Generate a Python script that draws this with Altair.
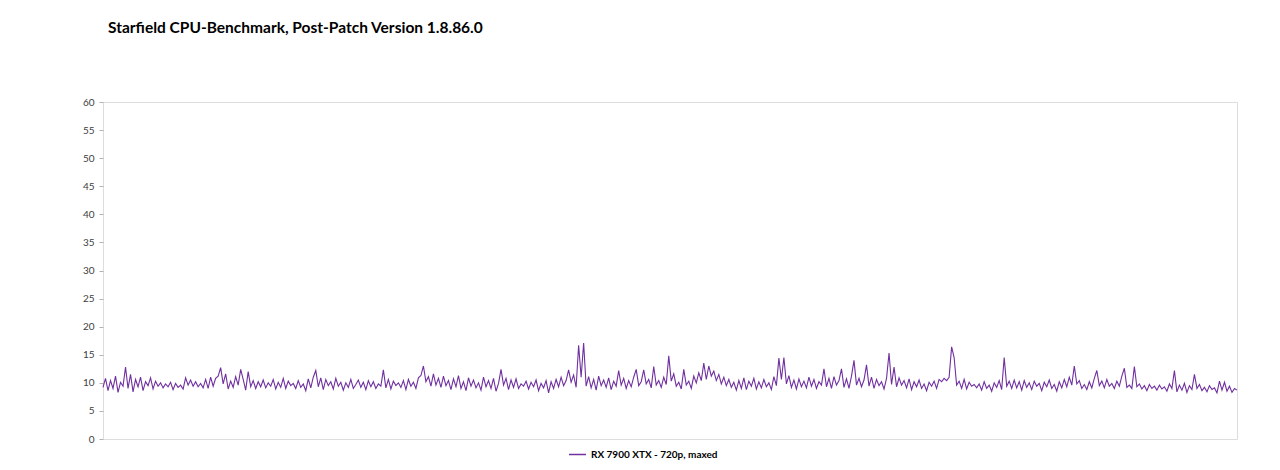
import altair as alt
import pandas as pd

series_name = "RX 7900 XTX - 720p, maxed"
title_text = "Starfield CPU-Benchmark, Post-Patch Version 1.8.86.0"
y_ticks = [0, 5, 10, 15, 20, 25, 30, 35, 40, 45, 50, 55, 60]

frametimes = [
    9.2, 10.8, 8.6, 10.4, 9.0, 11.2, 8.3, 10.1, 9.4, 12.8, 9.0, 11.5, 8.4, 10.6, 9.3, 11.0, 8.6, 10.2, 9.5, 10.9,
    8.9, 10.3, 9.4, 10.0, 9.1, 9.8, 9.3, 10.1, 8.8, 9.9, 9.2, 9.6, 8.9, 10.9, 9.6, 10.5, 9.4, 10.2, 9.3, 9.9,
    9.1, 10.6, 9.0, 11.0, 9.4, 10.8, 11.2, 12.7, 9.8, 11.6, 8.9, 10.3, 9.2, 11.1, 9.6, 12.4, 10.6, 8.7, 12.0, 9.3,
    10.4, 9.0, 10.2, 9.3, 10.5, 9.1, 10.0, 9.4, 10.6, 8.9, 10.1, 9.2, 10.8, 9.0, 10.3, 9.5, 9.9, 9.0, 10.4, 9.2,
    9.8, 8.6, 10.7, 9.1, 11.0, 12.2, 9.3, 10.9, 8.8, 10.6, 9.5, 10.2, 8.9, 10.8, 9.4, 10.1, 8.7, 10.0, 9.2, 10.6,
    9.0, 9.7, 10.5, 9.2, 10.1, 8.8, 10.4, 9.3, 10.2, 9.0, 9.8, 9.4, 12.3, 9.1, 10.6, 8.9, 10.3, 9.5, 10.0, 9.2,
    10.4, 8.8, 10.6, 9.4, 10.1, 9.0, 10.9, 11.3, 13.0, 10.2, 11.1, 9.4, 11.6, 9.6, 10.8, 9.2, 11.2, 9.5, 10.4, 8.8,
    10.7, 9.3, 11.3, 9.0, 10.2, 8.6, 10.9, 9.4, 10.5, 9.1, 10.0, 8.7, 11.0, 9.3, 10.4, 9.0, 10.8, 8.5, 9.9, 12.4,
    9.6, 10.8, 8.8, 10.5, 9.2, 10.7, 9.0, 9.8, 9.4, 10.3, 8.9, 10.1, 9.3, 10.5, 8.6, 9.9, 9.1, 10.4, 8.2, 10.2,
    9.0, 10.6, 9.3, 11.0, 9.5, 10.4, 12.3, 10.1, 11.4, 9.2, 16.7, 11.0, 17.1, 9.4, 11.1, 9.1, 10.6, 8.7, 11.2, 9.5,
    10.5, 9.2, 10.9, 8.8, 10.3, 9.4, 12.2, 9.6, 10.8, 9.0, 10.4, 9.3, 11.0, 12.4, 9.5, 10.2, 12.3, 9.8, 10.6, 9.1,
    12.9, 9.6, 10.4, 9.2, 11.0, 9.7, 14.8, 10.3, 11.6, 9.4, 10.1, 8.9, 12.4, 9.6, 10.3, 9.0, 11.2, 10.0, 11.8, 10.4,
    13.5, 10.6, 13.0, 11.2, 12.1, 10.4, 11.5, 9.8, 11.0, 9.5, 10.6, 9.2, 10.1, 8.7, 10.4, 9.0, 10.9, 8.8, 10.3, 9.4,
    10.8, 8.9, 10.2, 9.1, 10.6, 9.3, 10.0, 8.8, 11.1, 9.5, 14.4, 10.6, 14.5, 9.8, 11.3, 9.2, 10.5, 8.9, 10.7, 9.3,
    10.3, 9.1, 11.0, 9.4, 10.6, 9.0, 10.2, 9.6, 12.5, 9.3, 10.8, 9.0, 11.1, 9.6, 10.4, 12.5, 9.2, 10.7, 9.0, 11.2,
    14.0, 9.6, 10.8, 9.3, 10.5, 13.2, 9.4, 11.0, 9.0, 10.6, 9.5, 10.2, 8.9, 10.8, 15.3, 9.7, 12.8, 9.3, 10.9, 9.6,
    10.4, 9.1, 10.7, 8.8, 10.2, 9.3, 10.5, 9.0, 9.8, 8.6, 10.1, 9.4, 10.3, 9.0, 10.6, 10.2, 10.8, 10.4, 11.0, 16.4,
    14.5, 9.6, 10.3, 9.0, 10.6, 8.9, 10.1, 9.4, 9.7, 9.1, 9.8, 8.7, 10.2, 9.0, 9.6, 8.5, 10.0, 9.2, 10.4, 8.8,
    14.5, 9.4, 10.3, 9.0, 10.5, 9.1, 10.2, 8.7, 10.4, 9.2, 10.0, 8.8, 10.3, 9.4, 9.9, 8.6, 10.1, 9.3, 10.5, 9.0,
    9.7, 8.5, 10.2, 9.1, 10.6, 9.3, 11.0, 9.6, 13.0, 9.8, 10.4, 9.0, 9.7, 8.8, 10.2, 9.1, 10.8, 12.2, 9.5, 10.3,
    9.1, 10.6, 9.4, 9.9, 9.0, 10.3, 9.4, 11.2, 12.6, 9.2, 9.6, 9.0, 12.9, 9.3, 9.8, 8.9, 9.5, 8.6, 9.7, 9.0,
    9.4, 8.7, 9.6, 8.9, 9.3, 8.5, 9.8, 9.0, 12.2, 8.4, 9.6, 8.7, 9.9, 8.3, 9.5, 8.8, 11.5, 9.0, 9.7, 8.6,
    9.2, 8.4, 9.5, 8.8, 9.1, 8.2, 10.3, 8.7, 10.1, 8.5, 9.4, 8.3, 9.0, 8.7,
]

df = pd.DataFrame({
    "frame": list(range(len(frametimes))),
    "ms": frametimes,
    "series": [series_name] * len(frametimes),
})

chart = alt.Chart(df).mark_line(strokeWidth=1.1, interpolate="linear").encode(
    x=alt.X("frame:Q", axis=None,
            scale=alt.Scale(domain=[0, len(frametimes) - 1], nice=False, zero=False)),
    y=alt.Y("ms:Q",
            scale=alt.Scale(domain=[0, 60], nice=False),
            axis=alt.Axis(values=y_ticks, title=None, domain=False, grid=False,
                          ticks=True, tickSize=4, tickColor="#B3B3B3",
                          labelFont="Lato", labelFontSize=10, labelColor="#404040",
                          labelPadding=5)),
    color=alt.Color("series:N",
                    scale=alt.Scale(range=["#7030A0"]),
                    legend=alt.Legend(title=None, orient="none", legendX=465, legendY=343,
                                      symbolType="stroke", symbolSize=289,
                                      symbolStrokeWidth=1.5,
                                      labelFont="Lato", labelFontSize=10,
                                      labelFontWeight="bold", labelColor="#000000")),
).properties(
    width=1134,
    height=337,
    title=alt.TitleParams(title_text, anchor="start", frame="group", dx=5, offset=61,
                          font="Lato", fontSize=15.5, fontWeight="bold", color="#000000"),
    padding={"left": 95, "top": 94, "right": 35, "bottom": 22},
    autosize=alt.AutoSizeParams(type="none"),
).configure_view(
    stroke="#B3B3B3", strokeWidth=1
).configure(background="white")

chart.save("out.html", embed_options={"renderer": "svg", "actions": False})
